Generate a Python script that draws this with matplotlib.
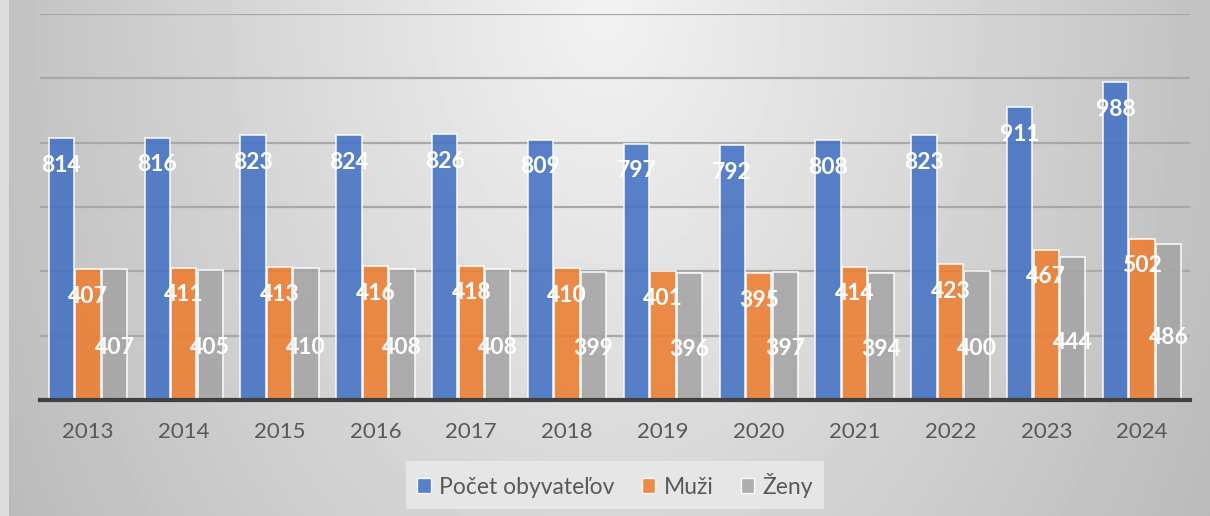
import numpy as np
import matplotlib.pyplot as plt
from matplotlib.patches import Patch

years = ['2013', '2014', '2015', '2016', '2017', '2018', '2019', '2020', '2021', '2022', '2023', '2024']
spolu = [814, 816, 823, 824, 826, 809, 797, 792, 808, 823, 911, 988]
muzi = [407, 411, 413, 416, 418, 410, 401, 395, 414, 423, 467, 502]
zeny = [407, 405, 410, 408, 408, 399, 396, 397, 394, 400, 444, 486]

series_names = ['Počet obyvateľov', 'Muži', 'Ženy']
colors = ['#4472c4', '#ed7d31', '#a5a5a5']

plt.rcParams['font.family'] = ['Lato', 'DejaVu Sans']

W, H = 1210, 516
fig = plt.figure(figsize=(W / 100, H / 100), dpi=100)

# radial grey background, light at the top centre
bg = fig.add_axes([0, 0, 1, 1], zorder=-10)
yy, xx = np.mgrid[0:H, 0:W]
r = np.sqrt(((xx - 605) / 600.0) ** 2 + (yy / 900.0) ** 2)
v = np.clip(0.95 - 0.19 * r, 0, 1)
v[:, :9] = 0.86
bg.imshow(v, cmap='gray', vmin=0, vmax=1, aspect='auto', interpolation='bilinear')
bg.axis('off')

ax = fig.add_axes([40 / W, 1 - 400 / H, 1150 / W, 386 / H])
ax.set_facecolor('none')

x = np.arange(len(years))
w = 0.265
off = 0.277
all_vals = [spolu, muzi, zeny]
for k, (vals, c) in enumerate(zip(all_vals, colors)):
    ax.bar(x + (k - 1) * off, vals, w, color=c, alpha=0.88,
           edgecolor=(1, 1, 1, 0.4), linewidth=1.2, zorder=3)

# data labels
lab = dict(color='white', fontsize=16.5, fontweight='bold', ha='center', va='center', zorder=5)
for k in range(2):
    for xi, val in zip(x, all_vals[k]):
        ax.annotate(str(val), (xi + (k - 1) * off, val), xytext=(0, -19.5),
                    textcoords='offset points', **lab)
for xi, val in zip(x, zeny):
    ax.text(xi + off, val * 0.4, str(val), **lab)

ax.set_xlim(-0.5, len(years) - 0.5)
ax.set_ylim(0, 1200)
ax.set_yticks(np.arange(200, 1201, 200))
ax.yaxis.grid(True, color='#a8a8a8', linewidth=1.6, zorder=1)
ax.set_axisbelow(True)
ax.axhline(0, color='#404040', linewidth=3, zorder=4, clip_on=False)
for s in ax.spines.values():
    s.set_visible(False)
ax.tick_params(axis='y', left=False, labelleft=False)
ax.tick_params(axis='x', length=0, pad=16, labelsize=16, labelcolor='#595959')
ax.set_xticks(x)
ax.set_xticklabels(years)

handles = [Patch(facecolor=c, edgecolor=(1, 1, 1, 0.6), alpha=0.88) for c in colors]
leg = fig.legend(handles, series_names, loc='center', bbox_to_anchor=(615 / W, 1 - 485 / H),
                 ncol=3, frameon=True, fontsize=16.5, handlelength=0.6, handleheight=0.6,
                 handletextpad=0.35, columnspacing=1.2, borderpad=0.5, labelcolor='#595959')
leg.get_frame().set_facecolor('#e6e6e6')
leg.get_frame().set_edgecolor('none')
leg.get_frame().set_alpha(1)
leg.get_frame().set_boxstyle('square', pad=0)

fig.savefig('out.png', dpi=100)
